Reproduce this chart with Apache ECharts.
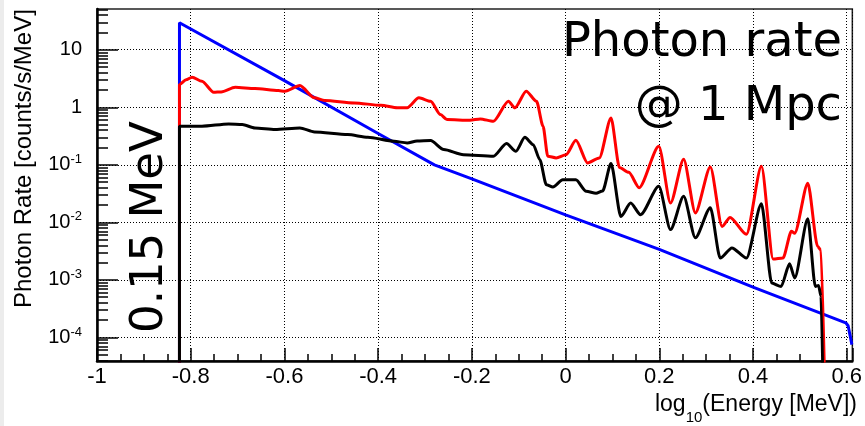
<!DOCTYPE html>
<html><head><meta charset="utf-8">
<script src="https://cdn.jsdelivr.net/npm/echarts@6/dist/echarts.min.js"></script>
<style>html,body{margin:0;padding:0;background:#fff;}#c{width:865px;height:426px;}</style>
</head><body><div id="c"></div>
<script>
// log10(Energy [MeV]) and photon rates [counts/s/MeV]
const blueE = [-0.824,-0.824,-0.6,-0.4,-0.28,-0.2,0,0.2,0.4,0.598,0.603,0.607,0.611];
const blueRate = [1e-6,29.4,2.9,0.35,0.1,0.057,0.0135,0.0034,0.00075,0.00018,0.00016,0.00011,0.000075];

const redE = [-0.824,-0.824,-0.81,-0.797,-0.776,-0.751,-0.735,-0.705,-0.663,-0.613,-0.599,-0.567,-0.536,-0.514,-0.451,-0.394,-0.359,-0.338,-0.313,-0.288,-0.267,-0.253,-0.204,-0.182,-0.154,-0.122,-0.108,-0.084,-0.062,-0.048,-0.038,-0.020,0.001,0.022,0.047,0.072,0.097,0.115,0.135,0.157,0.199,0.224,0.252,0.277,0.309,0.334,0.351,0.386,0.418,0.443,0.464,0.482,0.489,0.517,0.538,0.545,0.556];
const redRate = [1e-6,2.48,3.0,3.33,2.83,1.82,1.85,2.23,2.11,1.95,1.90,2.38,1.46,1.31,1.19,1.08,0.98,0.98,1.46,1.27,0.746,0.611,0.594,0.628,0.571,1.27,0.977,1.90,1.27,0.467,0.141,0.132,0.150,0.267,0.108,0.132,0.654,0.09,0.074,0.04,0.21,0.0217,0.125,0.0146,0.092,0.0085,0.0122,0.0062,0.094,0.0023,0.0024,0.0070,0.0065,0.048,0.0038,0.0033,1e-6];

const blackE = [-0.824,-0.824,-0.776,-0.719,-0.69,-0.663,-0.62,-0.567,-0.536,-0.465,-0.422,-0.366,-0.338,-0.317,-0.288,-0.26,-0.218,-0.154,-0.126,-0.106,-0.087,-0.069,-0.055,-0.041,-0.027,-0.006,0.022,0.044,0.065,0.079,0.097,0.118,0.139,0.16,0.199,0.224,0.252,0.277,0.309,0.33,0.355,0.386,0.418,0.44,0.46,0.478,0.489,0.517,0.533,0.54,0.545,0.552];
const blackRate = [1e-6,0.468,0.468,0.514,0.50,0.438,0.41,0.438,0.373,0.335,0.30,0.256,0.24,0.26,0.264,0.184,0.15,0.141,0.234,0.172,0.30,0.224,0.123,0.045,0.041,0.055,0.055,0.0346,0.032,0.035,0.105,0.0127,0.0217,0.0136,0.0423,0.0075,0.0283,0.0054,0.018,0.0024,0.0036,0.0024,0.021,0.00088,0.00077,0.0019,0.00108,0.0115,0.00077,0.0008,0.00052,1e-6];

// axis ticks
const yDecades = [1e-4,1e-3,1e-2,1e-1,1,10];
const minorMantissas = [2,3,4,5,6,7,8,9];
const minorExps = [-5,-4,-3,-2,-1,0,1];
const yMin = 3.9e-5, yMax = 51;
const xMin = -1, xMax = 0.612;

const yMinor = [];
minorExps.forEach(e => minorMantissas.forEach(m => {
  const v = m * Math.pow(10, e);
  if (v > yMin && v < yMax) yMinor.push(v);
}));

const pairs = (e, r) => e.map((x, i) => [x, r[i]]);

const chart = echarts.init(document.getElementById('c'), null, {renderer: 'canvas'});
const dotted = {color: '#000', width: 1, type: [1, 2]};
const labelFont = 'Liberation Sans';

chart.setOption({
  animation: false,
  backgroundColor: '#fff',
  grid: {left: 97, right: 7, top: 9, bottom: 65, show: true, borderColor: '#222', borderWidth: 1.5, backgroundColor: 'transparent'},
  xAxis: {
    type: 'value', min: xMin, max: xMax, interval: 0.2,
    axisLine: {onZero: false, lineStyle: {color: '#000', width: 2.5}},
    axisTick: {inside: true, length: 13, lineStyle: {color: '#000', width: 1.5}},
    minorTick: {show: true, splitNumber: 4, length: 7, lineStyle: {color: '#000', width: 1.5}},
    splitLine: {show: true, lineStyle: dotted},
    axisLabel: {color: '#000', fontSize: 22, fontFamily: labelFont, margin: 5,
      formatter: v => (v > 0.605 ? '' : String(Math.round(v * 10) / 10))}
  },
  yAxis: [{
    type: 'log', logBase: 10, min: yMin, max: yMax,
    axisLine: {onZero: false, lineStyle: {color: '#000', width: 2.5}},
    axisTick: {inside: true, length: 21, customValues: yDecades, lineStyle: {color: '#000', width: 1.5}},
    splitLine: {show: true, lineStyle: dotted},
    axisLabel: {
      customValues: yDecades, margin: 15, color: '#000', fontFamily: labelFont,
      formatter: v => {
        const e = Math.round(Math.log10(v));
        if (e === 1) return '{b|10}';
        if (e === 0) return '{b|1}';
        return '{b|10}{p|' + e + '}';
      },
      rich: {
        b: {fontSize: 20, lineHeight: 24, fontFamily: labelFont},
        p: {fontSize: 13, lineHeight: 13, fontFamily: labelFont, verticalAlign: 'top'}
      }
    }
  }, {
    type: 'log', logBase: 10, min: yMin, max: yMax, position: 'left', offset: 0,
    axisLine: {show: false, onZero: false},
    axisTick: {inside: true, length: 11, customValues: yMinor, lineStyle: {color: '#000', width: 1.5}},
    axisLabel: {show: false},
    splitLine: {show: false}
  }],
  series: [
    {type: 'line', data: pairs(blueE, blueRate), showSymbol: false, clip: true, z: 3,
      lineStyle: {color: '#0000ff', width: 3}, itemStyle: {color: '#0000ff'}},
    {type: 'line', data: pairs(redE, redRate), showSymbol: false, clip: true, z: 4,
      smooth: 0.25, smoothMonotone: 'x',
      lineStyle: {color: '#ff0000', width: 3}, itemStyle: {color: '#ff0000'}},
    {type: 'line', data: pairs(blackE, blackRate), showSymbol: false, clip: true, z: 5,
      smooth: 0.25, smoothMonotone: 'x',
      lineStyle: {color: '#000000', width: 3}, itemStyle: {color: '#000'}}
  ],
  graphic: [
    {type: 'rect', left: 0, top: 0, shape: {width: 4, height: 426}, style: {fill: '#ececec'}, z: 0},
    {type: 'text', x: 24, y: 308, rotation: Math.PI / 2,
      style: {text: 'Photon Rate [counts/s/MeV]', fill: '#000', font: '24px Liberation Sans', textAlign: 'left', textVerticalAlign: 'middle'}},
    {type: 'text', x: 857, y: 393,
      style: {text: '{a|log}{s|10}{a|(Energy [MeV])}', textAlign: 'right', textVerticalAlign: 'top', fill: '#000',
        rich: {
          a: {fontSize: 23, lineHeight: 24, fontFamily: labelFont, fill: '#000', verticalAlign: 'top'},
          s: {fontSize: 15, lineHeight: 16, fontFamily: labelFont, fill: '#000', verticalAlign: 'top', padding: [17, 0, 0, 0]}
        }}},
    {type: 'text', x: 842, y: 44, z: 10,
      style: {text: 'Photon rate', fill: '#000', font: '48px DejaVu Sans', textAlign: 'right', textVerticalAlign: 'middle'}},
    {type: 'text', x: 842, y: 108, z: 10,
      style: {text: '@ 1 Mpc', fill: '#000', font: '48px DejaVu Sans', textAlign: 'right', textVerticalAlign: 'middle'}},
    {type: 'text', x: 150, y: 333, rotation: Math.PI / 2, z: 10,
      style: {text: '0.15 MeV', fill: '#000', font: '45px DejaVu Sans', textAlign: 'left', textVerticalAlign: 'middle'}}
  ]
});
</script></body></html>
